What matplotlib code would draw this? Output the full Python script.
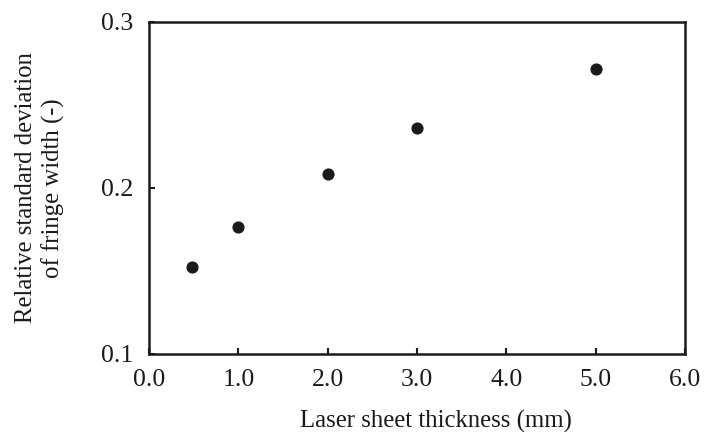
import matplotlib
matplotlib.use("Agg")
import matplotlib.pyplot as plt

thickness = [0.48, 1.0, 2.0, 3.0, 5.0]
rel_std = [0.1526, 0.1767, 0.2086, 0.236, 0.2715]
xticks = [0.0, 1.0, 2.0, 3.0, 4.0, 5.0, 6.0]
yticks = [0.1, 0.2, 0.3]

plt.rcParams['font.family'] = ['Liberation Serif', 'DejaVu Serif']

fig = plt.figure(figsize=(7.07, 4.32), dpi=100)
ax = fig.add_axes([149/707, 1-354/432, (685-149)/707, (354-22)/432])
ax.scatter(thickness, rel_std, s=60, color='#1a1a1a', zorder=3)
ax.set_xlim(0, 6)
ax.set_ylim(0.1, 0.3)
ax.set_xticks(xticks)
ax.set_xticklabels([f"{v:.1f}" for v in xticks])
ax.set_yticks(yticks)
ax.set_yticklabels([f"{v:.1f}" for v in yticks])
ax.tick_params(direction='in', length=4, width=1.5, labelsize=18.5, colors='#1a1a1a')
ax.tick_params(axis='x', pad=11)
ax.tick_params(axis='y', pad=11)
for s in ax.spines.values():
    s.set_linewidth(1.8)
    s.set_color('#1a1a1a')
ax.set_xlabel("Laser sheet thickness (mm)", fontsize=17.8, labelpad=13.5, color='#1a1a1a', x=0.535)
ax.set_ylabel("Relative standard deviation\nof fringe width (-)", fontsize=17.8, labelpad=26,
              color='#1a1a1a', linespacing=1.3)
fig.savefig("out.png", dpi=100)
